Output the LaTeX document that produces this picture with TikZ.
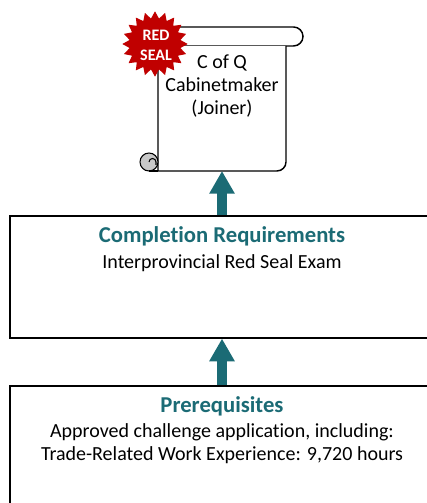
\documentclass[tikz,border=0pt]{standalone}
\usepackage{fontspec}
\setmainfont{Carlito}[Ligatures=NoCommon]
\usetikzlibrary{arrows.meta,shapes.geometric}
\definecolor{teal}{RGB}{27,107,117}
\definecolor{sealred}{RGB}{192,0,0}
\definecolor{curlgray}{RGB}{200,200,200}
\begin{document}
\begin{tikzpicture}[x=0.75pt,y=0.75pt,
        box/.style={rectangle, draw, line width=0.9pt, fill=white, inner sep=0pt},
        title/.style={font=\fontsize{17}{20}\selectfont\bfseries, text=teal},
        body/.style={font=\fontsize{15}{17.5}\selectfont, align=center},
        uparrow/.style={-{Triangle[length=17pt,width=18pt]}, line width=6.8pt, draw=teal}]
        \useasboundingbox (0,0) rectangle (427,503);
        \clip (0,0) rectangle (427,503);

        % Scroll
        \draw[line width=1.1pt, fill=white] (160,476) -- (293.5,476) arc (90:-90:9.5) -- (160,457);
        \fill[white] (158,457) rectangle (286,332);
        \draw[line width=1.1pt] (158,457) -- (158,332) -- (277,332) arc (-90:0:9) -- (286,457);
        \draw[line width=0.8pt, fill=curlgray] (149,341) circle (9);
        \draw[line width=0.8pt] (149,341) arc (180:0:3.5) -- (156,338);
        \draw[line width=1.1pt] (149,332) -- (158,332);

        % Nodes
        \node (seal) [star, star points=20, star point ratio=1.27, fill=sealred, minimum size=49pt, inner sep=0pt] at (155,459) {};
        \node (sealtext) [font=\fontsize{12}{15}\selectfont\bfseries, text=white, align=center] at (156,458) {RED\\SEAL};
        \node (trade) [font=\fontsize{15}{17}\selectfont, align=center] at (222,417) {C of Q\\Cabinetmaker\\(Joiner)};
        \coordinate (scrollbot) at (222,332);

        \node (req) [box, minimum width=318pt, minimum height=91.5pt] at (222,226) {};
        \node (reqtitle) [title] at (222,267) {Completion Requirements};
        \node (reqtext) [body] at (222,240) {Interprovincial Red Seal Exam};

        \node (pre) [box, minimum width=318pt, minimum height=112.5pt] at (222,42) {};
        \node (pretitle) [title] at (222,97) {Prerequisites};
        \node (pretext) [body] at (222,59.5) {Approved challenge application, including:\\Trade-Related Work Experience: 9,720 hours};

        % Edges
        \draw[uparrow] (req.north) -- (scrollbot);
        \draw[uparrow] (pre.north) -- (req.south);

    \end{tikzpicture}
\end{document}
